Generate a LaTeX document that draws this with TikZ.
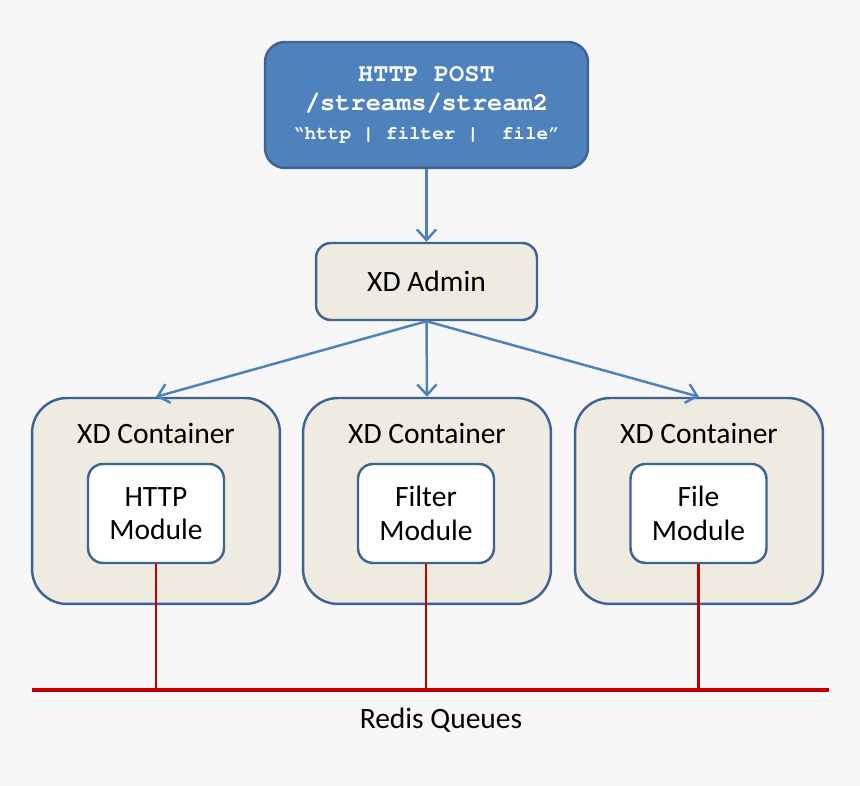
\documentclass[tikz,border=0pt]{standalone}
\usepackage[T1,TU]{fontenc}
\usepackage{fontspec}
\setmainfont{Carlito}
\newcommand{\courbold}{\fontencoding{T1}\fontfamily{pcr}\fontseries{b}\selectfont}
\usetikzlibrary{arrows.meta}
\definecolor{bgray}{HTML}{F7F7F7}
\definecolor{xdblue}{HTML}{4F81BD}
\definecolor{xdedge}{HTML}{3F6494}
\definecolor{xdbeige}{HTML}{EEECE1}
\definecolor{xdred}{HTML}{C00000}

\begin{document}
\begin{tikzpicture}[x=0.02cm,y=-0.02cm]

\tikzset{request/.style = {draw=xdedge,line width=1.4pt,fill=xdblue,rounded corners=0.4cm,
  minimum width=6.46cm,minimum height=2.52cm,text=white,align=center,inner sep=0pt,
  font=\courbold\fontsize{14.4}{17}\selectfont}}
\tikzset{admin/.style = {draw=xdedge,line width=1.4pt,fill=xdbeige,rounded corners=0.3cm,
  minimum width=4.42cm,minimum height=1.54cm,font=\fontsize{16.8}{20}\selectfont}}
\tikzset{container/.style = {draw=xdedge,line width=1.4pt,fill=xdbeige,rounded corners=0.7cm,
  minimum width=4.96cm,minimum height=4.12cm}}
\tikzset{module/.style = {draw=xdedge,line width=1.4pt,fill=white,rounded corners=0.3cm,
  minimum width=2.72cm,minimum height=1.98cm,align=center,inner sep=0pt,
  font=\fontsize{16.8}{19}\selectfont}}
\tikzset{label/.style = {font=\fontsize{16.8}{20}\selectfont,inner sep=0pt}}
\tikzset{edge/.style = {draw=xdblue,line width=1.4pt,-{Straight Barb[length=6pt,width=11pt,line width=1.4pt]}}}
\tikzset{queue/.style = {draw=xdred,line width=1.4pt}}

\fill[bgray] (0,0) rectangle (860,786);

\node[request] (post) at (426.5,105) {HTTP POST\\[0pt]
  /streams/stream2\\[-1pt]
  {\fontsize{11}{14}\selectfont \textquotedblleft http | filter |~\ file\textquotedblright}};
\node[admin] (admin) at (426.5,281.5) {XD Admin};

\node[container] (c1) at (156,501) {};
\node[container] (c2) at (427,501) {};
\node[container] (c3) at (699,501) {};
\node[label] (l1) at (156,433) {XD Container};
\node[label] (l2) at (427,433) {XD Container};
\node[label] (l3) at (699,433) {XD Container};

\node[module] (http) at (156,513.5) {HTTP\\Module};
\node[module] (filter) at (426,513.5) {Filter\\Module};
\node[module] (file) at (698.5,513.5) {File\\Module};

%edges
\draw[edge] (post) to (admin);
\draw[edge] (admin.south) to (c1.north);
\draw[edge] (admin.south) to (c2.north);
\draw[edge] (admin.south) to (c3.north);

%queues
\coordinate (busL) at (32,690);
\coordinate (busR) at (829,690);
\draw[queue,line width=1.8pt] (busL) -- (busR);
\draw[queue] (http.south) -- (http.south |- busL);
\draw[queue] (filter.south) -- (filter.south |- busL);
\draw[queue] (file.south) -- (file.south |- busL);
\node[label] (redis) at (441,720) {Redis Queues};
\end{tikzpicture}
\end{document}
